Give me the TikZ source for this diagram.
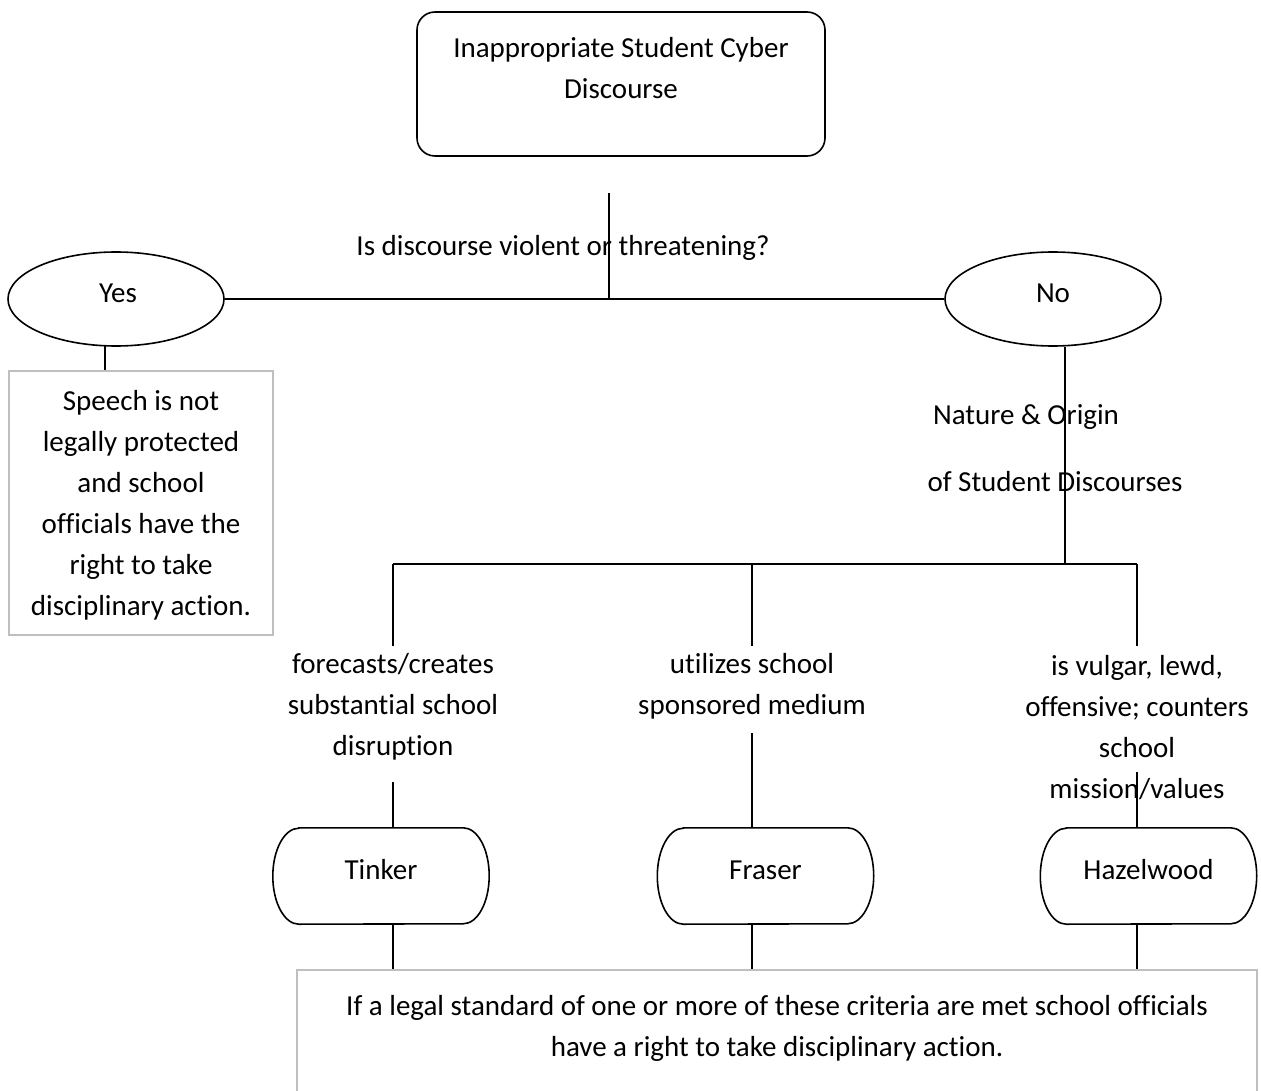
\documentclass[tikz,border=0pt]{standalone}
\usepackage{fontspec}
\setmainfont{Carlito}[Ligatures={NoCommon}]
\usetikzlibrary{shapes.geometric}
\definecolor{boxgray}{RGB}{191,191,191}
\begin{document}
\begin{tikzpicture}[x=1pt,y=-1pt,
  txt/.style={font=\fontsize{29}{41}\selectfont, align=center, inner sep=0pt},
  one/.style={txt, text height=24pt, text depth=4pt},
  conn/.style={draw=black, line width=1.6pt},
  oval/.style={ellipse, draw=black, line width=1.6pt, minimum width=216pt, minimum height=94pt, inner sep=0pt},
  graybox/.style={rectangle, draw=boxgray, line width=1.6pt, inner sep=0pt},
  termshape/.style={rectangle, draw=none, minimum width=216pt, minimum height=96pt, inner sep=0pt}
]
\useasboundingbox (0,0) rectangle (1261,1091);
\fill[white] (0,0) rectangle (1261,1091);

% top box
\node[rectangle, draw=black, line width=1.6pt, rounded corners=18pt, minimum width=408pt, minimum height=144pt] (top) at (621,84) {};
\node[txt] (toptxt) at (621,68.5) {Inappropriate Student Cyber\\Discourse};

% question
\coordinate (qtop) at (609,193);
\coordinate (qbot) at (609,299);
\node[one] (q) at (563,246) {Is discourse violent or threatening?};

% yes / no
\node[oval] (yes) at (116,299) {};
\node[one] at (118,293) {Yes};
\node[oval] (no) at (1053,299) {};
\node[one] at (1053,293) {No};

\draw[conn] (qtop) -- (qbot);
\draw[conn] (yes.east) -- (no.west);

% yes box
\node[graybox, minimum width=264pt, minimum height=264pt] (yesbox) at (141,503) {};
\node[txt] at (141,505.5) {Speech is not\\legally protected\\and school\\officials have the\\right to take\\disciplinary action.};
\draw[conn] (105,345.5) coordinate (ya) -- (ya |- yesbox.north);

% no branch
\coordinate (nob) at (1065,347);
\coordinate (nj) at (1065,564);
\node[one] at (1026,414) {Nature \& Origin};
\node[one] at (1055,481) {of Student Discourses};
\draw[conn] (nob) -- (nj);

\coordinate (b1) at (393,564);
\coordinate (b2) at (752,564);
\coordinate (b3) at (1137,564);
\draw[conn] (b1) -- (b3);
\draw[conn] (b1) -- ++(0,82) coordinate (b1e);
\draw[conn] (b2) -- ++(0,82) coordinate (b2e);
\draw[conn] (b3) -- ++(0,82) coordinate (b3e);

% criteria labels
\node[txt] (l1) at (393,707) {forecasts/creates\\substantial school\\disruption};
\node[txt] (l2) at (752,686.5) {utilizes school\\sponsored medium};
\node[txt] (l3) at (1137,727.5) {is vulgar, lewd,\\offensive; counters\\school\\mission/values};

% terminals
\foreach \n/\x/\t in {tinker/381/Tinker, fraser/765.5/Fraser, hazel/1148.5/Hazelwood}{
  \node[termshape] (\n) at (\x,876) {};
  \draw[black, line width=1.6pt]
    ([xshift=26pt]\n.north west) -- ([xshift=-26pt]\n.north east)
    arc[start angle=90, end angle=-90, x radius=26pt, y radius=48pt]
    -- ([xshift=26pt]\n.south west)
    arc[start angle=270, end angle=90, x radius=26pt, y radius=48pt] -- cycle;
  \node[one] at (\x,869) {\t};
}

% bottom box
\node[graybox, minimum width=960pt, minimum height=150pt] (bottom) at (777,1045) {};
\node[txt] at (777,1028) {If a legal standard of one or more of these criteria are met school officials\\have a right to take disciplinary action.};

% connectors label -> terminal -> bottom
\draw[conn] (393,782) coordinate (t1a) -- (t1a |- tinker.north);
\draw[conn] (752,733) coordinate (t2a) -- (t2a |- fraser.north);
\draw[conn] (1137,772) coordinate (t3a) -- (t3a |- hazel.north);
\draw[conn] (393,924) coordinate (u1) -- (u1 |- bottom.north);
\draw[conn] (752,924) coordinate (u2) -- (u2 |- bottom.north);
\draw[conn] (1137,924) coordinate (u3) -- (u3 |- bottom.north);
\end{tikzpicture}
\end{document}
